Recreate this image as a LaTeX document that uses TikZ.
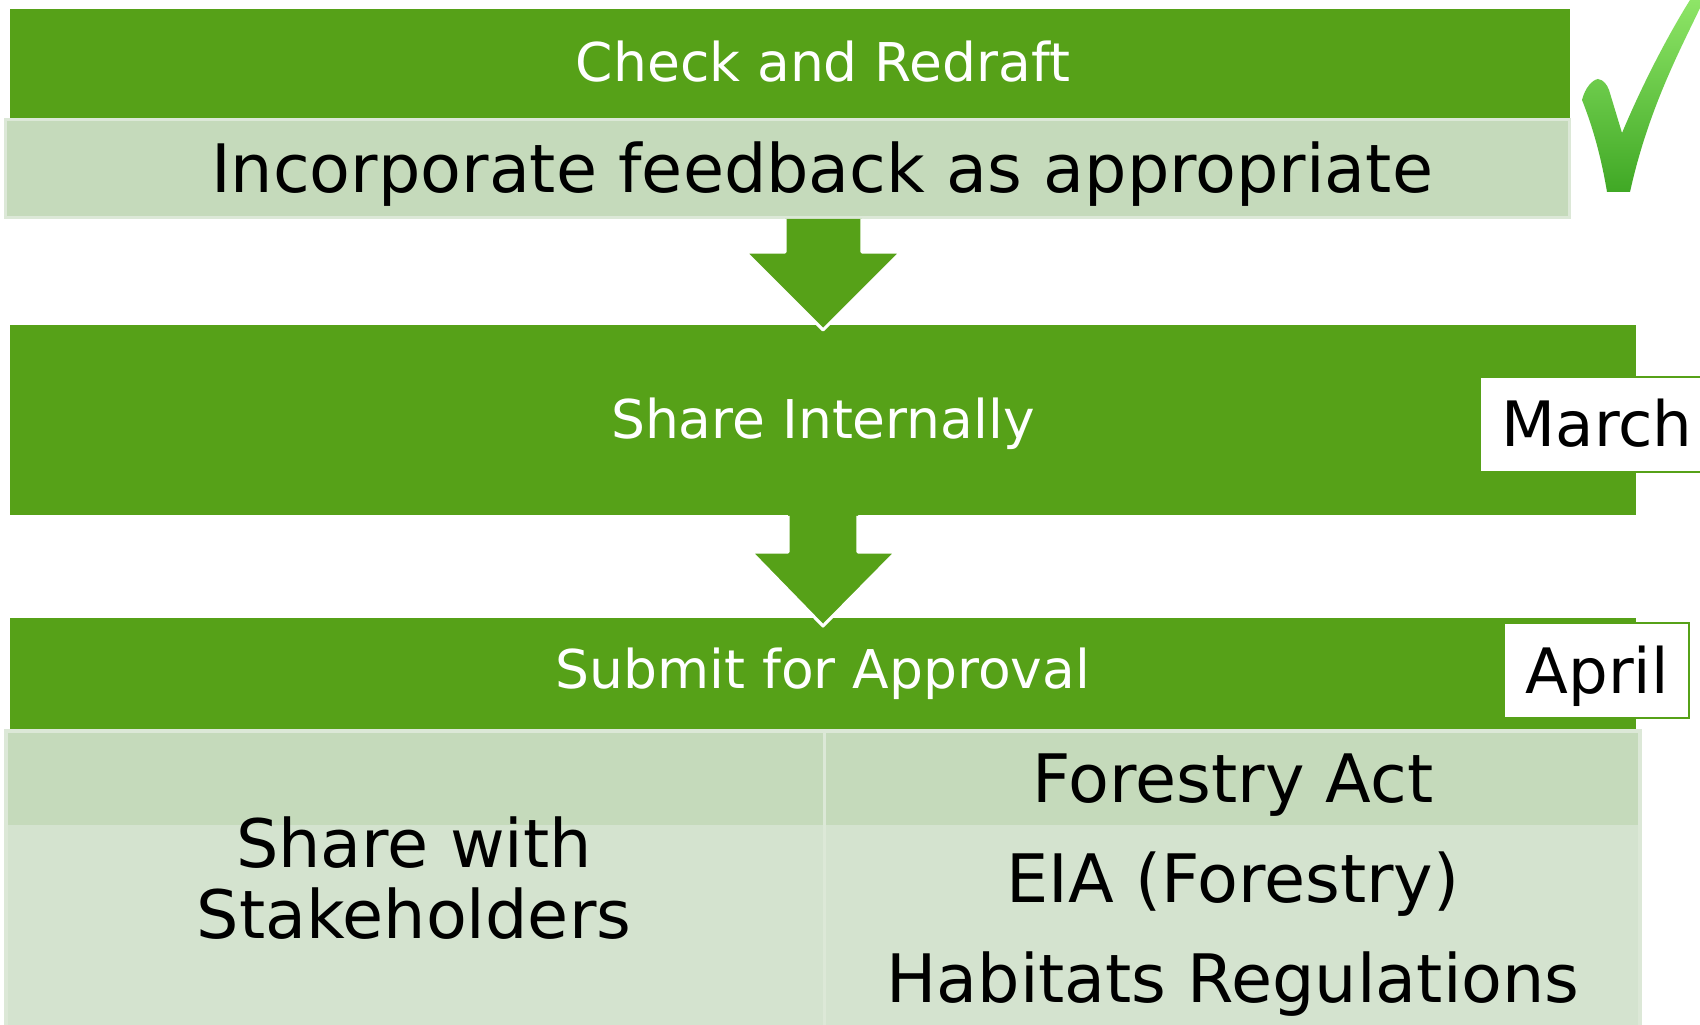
\documentclass[tikz,border=0pt]{standalone}
\usepackage{fontspec}
\setmainfont{DejaVu Sans}
\definecolor{gbar}{HTML}{56A118}
\definecolor{hdr}{HTML}{C5DABB}
\definecolor{bdy}{HTML}{D4E3CF}
\definecolor{cline}{HTML}{DCE8D7}
\definecolor{chkA}{HTML}{8EE567}
\definecolor{chkB}{HTML}{40A825}
\begin{document}
\begin{tikzpicture}[x=0.01cm,y=-0.01cm,
  barbox/.style={fill=gbar, draw=none, inner sep=0pt},
  wtxt/.style={text=white, anchor=base, inner sep=0pt, font=\fontsize{15.2pt}{18pt}\selectfont},
  btxt/.style={text=black, anchor=base, inner sep=0pt, font=\fontsize{19pt}{20.3pt}\selectfont},
  mtxt/.style={text=black, anchor=base, inner sep=0pt, font=\fontsize{17.8pt}{20pt}\selectfont},
  datebox/.style={fill=white, draw=gbar, line width=0.5pt, inner sep=0pt},
  blockarrow/.style={fill=gbar},
  arrowrim/.style={draw=white, line width=0.9pt, line join=round}]
\useasboundingbox (0,0) rectangle (1700,1025);
\fill[white] (0,0) rectangle (1700,1025);

% top bar and feedback box
\node[barbox, minimum width=15.6cm, minimum height=1.1cm] (bar1) at (790,64) {};
\node[wtxt] (t1) at (823,82) {Check and Redraft};
\node[fill=hdr, draw=cline, line width=0.8pt, inner sep=0pt, minimum width=15.63cm, minimum height=0.98cm] (fb) at (787.5,168.5) {};
\node[btxt] (t1b) at (822,193) {Incorporate feedback as appropriate};

% check mark
\shade[top color=chkA, bottom color=chkB]
  (1582,100) .. controls (1585,88) and (1592,80) .. (1598,79)
  .. controls (1604,80) and (1607,85) .. (1609,90) -- (1622,133)
  .. controls (1640,90) and (1665,40) .. (1690,0) -- (1700,0) -- (1700,8)
  .. controls (1680,50) and (1648,110) .. (1630,192) -- (1607,192)
  .. controls (1600,150) and (1590,120) .. cycle;

% second bar
\node[barbox, minimum width=16.26cm, minimum height=1.9cm] (bar2) at (823,420) {};
\node[wtxt] (t2) at (823,439) {Share Internally};
\node[datebox, minimum width=2.3cm, minimum height=0.95cm] (march) at (1595,424.5) {};
\node[mtxt] (mt) at (1597,447) {March};

% arrow 1
\fill[blockarrow] (785,219) -- (785,252) -- (745,252) -- (823,330) -- (901,252) -- (862,252) -- (862,219) -- cycle;
\draw[arrowrim] (785,219) -- (785,252) -- (745,252) -- (823,330) -- (901,252) -- (862,252) -- (862,219);

% third bar
\node[barbox, minimum width=16.26cm, minimum height=1.12cm] (bar3) at (823,674) {};
\node[wtxt] (t3) at (823,689) {Submit for Approval};
\node[datebox, minimum width=1.85cm, minimum height=0.95cm] (april) at (1596.5,670.5) {};
\node[mtxt] (at) at (1597,693) {April};

% arrow 2
\fill[blockarrow] (788,514) -- (788,552) -- (751,552) -- (823,626) -- (896,552) -- (858,552) -- (858,514) -- cycle;
\draw[arrowrim] (788,516) -- (788,552) -- (751,552) -- (823,626) -- (896,552) -- (858,552) -- (858,516);

% table
\fill[hdr] (5,730) rectangle (1641,825);
\fill[bdy] (5,825) rectangle (1641,1025);
\draw[cline, line width=0.9pt] (6,1025) -- (6,731) -- (1640,731) -- (1640,1025);
\draw[cline, line width=0.9pt] (824.5,731) -- (824.5,1025);
\node[btxt, anchor=center, align=center] (share) at (414,878) {Share with\\Stakeholders};
\node[btxt] (fa) at (1233,802) {Forestry Act};
\node[btxt] (eia) at (1233,902) {EIA (Forestry)};
\node[btxt] (hab) at (1233,1002) {Habitats Regulations};
\end{tikzpicture}
\end{document}
